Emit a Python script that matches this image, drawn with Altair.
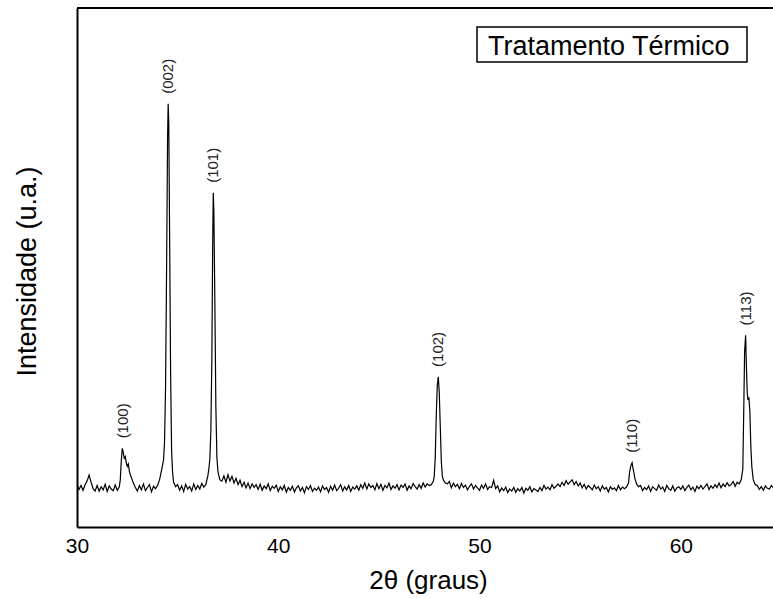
import altair as alt
import numpy as np
import pandas as pd

# Diffractogram background, sampled every 0.1 deg from 30.0 deg (one row per degree)
x_start, x_step = 30.0, 0.1
background = [
    108, 94, 104, 92, 106, 115, 130, 112, 96, 90,      # 30
    104, 90, 101, 93, 107, 89, 103, 95, 91, 105,       # 31
    92, 100, 100, 100, 100, 100, 100, 100, 100, 100,   # 32
    90, 104, 93, 108, 91, 99, 106, 88, 102, 96,        # 33
    100, 100, 100, 100, 100, 100, 100, 100, 100, 100,  # 34
    106, 92, 103, 89, 107, 95, 101, 90, 108, 94,       # 35
    104, 95, 109, 100, 100, 100, 100, 100, 100, 100,   # 36
    100, 100, 100, 128, 112, 131, 115, 127, 110, 122,  # 37
    106, 117, 101, 112, 98, 110, 96, 108, 99, 106,     # 38
    94, 107, 92, 103, 96, 108, 91, 102, 97, 105,       # 39
    89, 101, 93, 104, 87, 99, 92, 102, 88, 98,         # 40
    103, 90, 99, 86, 101, 94, 104, 89, 97, 92,         # 41
    100, 88, 103, 94, 99, 87, 102, 92, 105, 91,        # 42
    97, 106, 90, 101, 93, 104, 89, 100, 95, 103,       # 43
    92, 106, 97, 110, 95, 108, 99, 104, 93, 109,       # 44
    96, 107, 92, 104, 98, 110, 94, 103, 97, 106,       # 45
    93, 105, 99, 108, 92, 103, 96, 109, 101, 95,       # 46
    106, 97, 110, 100, 108, 104, 100, 100, 100, 100,   # 47
    100, 100, 100, 100, 100, 114, 98, 110, 101, 107,   # 48
    96, 109, 99, 105, 93, 102, 108, 95, 104, 98,       # 49
    92, 105, 97, 108, 94, 101, 99, 117, 96, 103,       # 50
    88, 98, 91, 100, 86, 95, 90, 99, 87, 96,           # 51
    90, 99, 85, 97, 92, 101, 88, 96, 93, 89,           # 52
    99, 91, 104, 95, 100, 93, 106, 97, 102, 108,       # 53
    101, 112, 104, 116, 107, 113, 118, 106, 114, 103,  # 54
    110, 98, 107, 95, 104, 99, 93, 105, 96, 101,       # 55
    90, 103, 95, 99, 88, 101, 94, 98, 91, 104,         # 56
    93, 100, 96, 100, 100, 100, 100, 100, 100, 100,    # 57
    104, 91, 99, 94, 103, 89, 101, 96, 92, 105,        # 58
    95, 100, 89, 104, 96, 92, 103, 90, 98, 101,        # 59
    94, 103, 91, 99, 105, 93, 100, 89, 102, 96,        # 60
    104, 95, 101, 108, 94, 103, 97, 106, 99, 110,      # 61
    98, 108, 101, 111, 103, 106, 114, 102, 112, 100,   # 62
    100, 100, 100, 100, 100, 100, 100, 100, 104, 94,   # 63
    101, 92, 103, 97, 95, 104, 98,                     # 64
]

# Reflection profiles, sampled more finely across each peak
peak_100_x = [32.1, 32.15, 32.2, 32.25, 32.3, 32.35, 32.4, 32.45, 32.5, 32.55, 32.6, 32.65, 32.7, 32.8, 32.9]
peak_100_y = [101, 118, 165, 197, 186, 172, 176, 160, 152, 158, 140, 131, 124, 110, 99]

peak_002_x = [34.0, 34.1, 34.2, 34.3, 34.35, 34.4, 34.45, 34.5, 34.53, 34.56, 34.6, 34.65, 34.7, 34.75, 34.8, 34.9]
peak_002_y = [104, 118, 142, 168, 215, 350, 640, 975, 1060, 1010, 740, 390, 190, 136, 112, 101]

peak_101_x = [36.4, 36.5, 36.55, 36.6, 36.65, 36.7, 36.74, 36.77, 36.8, 36.85, 36.9, 36.95, 37.0, 37.05, 37.1, 37.2]
peak_101_y = [106, 128, 145, 170, 240, 420, 700, 837, 790, 560, 300, 175, 140, 128, 118, 115]

peak_102_x = [47.6, 47.7, 47.75, 47.8, 47.85, 47.9, 47.95, 48.0, 48.05, 48.1, 48.15, 48.2, 48.3, 48.4]
peak_102_y = [106, 114, 128, 175, 280, 355, 376, 335, 250, 165, 128, 118, 110, 108]

peak_110_x = [57.3, 57.4, 57.45, 57.5, 57.55, 57.58, 57.62, 57.67, 57.72, 57.8, 57.9]
peak_110_y = [100, 110, 135, 150, 158, 161, 148, 136, 121, 108, 101]

peak_113_x = [62.9, 63.0, 63.08, 63.12, 63.17, 63.22, 63.26, 63.3, 63.34, 63.38, 63.43, 63.48, 63.53, 63.6, 63.7]
peak_113_y = [108, 118, 145, 270, 440, 480, 400, 335, 318, 325, 290, 200, 150, 118, 106]

# Miller indices of the indexed reflections
hkl_labels = ["(100)", "(002)", "(101)", "(102)", "(110)", "(113)"]
hkl_pos = [32.3, 34.53, 36.77, 47.95, 57.58, 63.22]
hkl_height = [197, 1060, 837, 376, 161, 480]

legend_text = ["Tratamento Térmico"]

# Assemble the pattern: background outside the peak windows, fine profiles inside
bg_x = np.round(x_start + x_step * np.arange(len(background)), 2)
bg = pd.DataFrame({"two_theta": bg_x, "intensity": background})
peaks = [
    (peak_100_x, peak_100_y), (peak_002_x, peak_002_y), (peak_101_x, peak_101_y),
    (peak_102_x, peak_102_y), (peak_110_x, peak_110_y), (peak_113_x, peak_113_y),
]
keep = np.ones(len(bg), dtype=bool)
parts = []
for px, py in peaks:
    keep &= ~((bg["two_theta"] >= px[0] - 1e-9) & (bg["two_theta"] <= px[-1] + 1e-9))
    parts.append(pd.DataFrame({"two_theta": px, "intensity": py}))
pattern = pd.concat([bg[keep]] + parts).sort_values("two_theta").reset_index(drop=True)

labels = pd.DataFrame({"two_theta": hkl_pos, "anchor": np.array(hkl_height) + 25, "hkl": hkl_labels})

FONT = "Liberation Sans"
W, H = 696, 519

x_scale = alt.Scale(domain=[30, 64.58], nice=False, zero=False)
y_scale = alt.Scale(domain=[0, 1300], nice=False, zero=False)

line = alt.Chart(pattern).mark_line(color="black", strokeWidth=1.2, clip=True).encode(
    x=alt.X(
        "two_theta:Q",
        scale=x_scale,
        axis=alt.Axis(
            values=[30, 40, 50, 60],
            title="2θ (graus)",
            titleFontSize=26,
            titleFontWeight="normal",
            titleColor="black",
            titleBaseline="alphabetic",
            titleY=61,
            titleX=351,
            titleAlign="center",
            labelFontSize=21,
            labelColor="black",
            labelPadding=8,
            labelFlush=False,
            labelOverlap=False,
            ticks=False,
            tickSize=0,
            grid=False,
            domainColor="black",
            domainWidth=2,
        ),
    ),
    y=alt.Y(
        "intensity:Q",
        scale=y_scale,
        axis=alt.Axis(
            title="Intensidade (u.a.)",
            titleFontSize=27,
            titleFontWeight="normal",
            titleColor="black",
            titleAngle=270,
            titleBaseline="alphabetic",
            titleAlign="center",
            titleX=-42,
            titleY=263,
            labels=False,
            ticks=False,
            tickSize=0,
            grid=False,
            domainColor="black",
            domainWidth=2,
        ),
    ),
)

hkl_text = alt.Chart(labels).mark_text(
    angle=270, align="left", baseline="middle", fontSize=15, color="#222222", font=FONT
).encode(
    x=alt.X("two_theta:Q", scale=x_scale),
    y=alt.Y("anchor:Q", scale=y_scale),
    text="hkl:N",
)

top_border = alt.Chart(pd.DataFrame({"a": [0]})).mark_rule(color="black", strokeWidth=2).encode(
    x=alt.value(0), x2=alt.value(W), y=alt.value(0)
)

legend_df = pd.DataFrame({"name": legend_text})
legend_box = alt.Chart(legend_df).mark_rect(fill="white", stroke="black", strokeWidth=1.5).encode(
    x=alt.value(400), x2=alt.value(670), y=alt.value(19), y2=alt.value(54)
)
legend_label = alt.Chart(legend_df).mark_text(
    align="left", baseline="alphabetic", fontSize=27, color="black", font=FONT
).encode(x=alt.value(411), y=alt.value(47), text="name:N")

chart = (
    alt.layer(line, hkl_text, top_border, legend_box, legend_label)
    .properties(
        width=W,
        height=H,
        padding={"left": 77, "top": 8, "right": 0, "bottom": 72},
        autosize=alt.AutoSizeParams(type="none"),
    )
    .configure(font=FONT, background="white")
    .configure_view(stroke=None)
)

chart.save("out.html", embed_options={"renderer": "svg", "actions": False})
